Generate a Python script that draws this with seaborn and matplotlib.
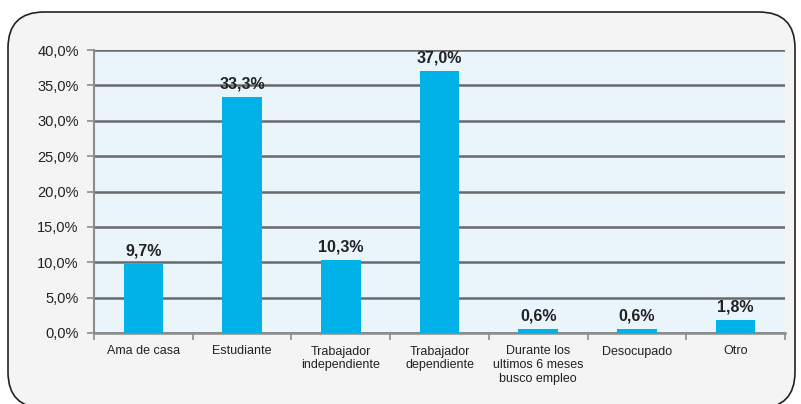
import matplotlib
matplotlib.use("Agg")
import matplotlib.pyplot as plt
import seaborn as sns
import pandas as pd
from matplotlib.patches import FancyBboxPatch
from matplotlib.ticker import MultipleLocator, FuncFormatter, FixedLocator

# --- DATA ---
categories = [
    "Ama de casa",
    "Estudiante",
    "Trabajador\nindependiente",
    "Trabajador\ndependiente",
    "Durante los\nultimos 6 meses\nbusco empleo",
    "Desocupado",
    "Otro",
]
values = [9.7, 33.3, 10.3, 37.0, 0.6, 0.6, 1.8]

BAR_COLOR = "#00b2e7"
PLOT_BG = "#eaf4fb"
BOX_BG = "#f4f4f4"
GRID = "#6a6a6a"


def pct(v, _=None):
    return f"{v:.1f}%".replace(".", ",")


def main():
    sns.set_style("white")
    plt.rcParams["font.family"] = ["Liberation Sans", "DejaVu Sans"]

    df = pd.DataFrame({"cat": categories, "val": values})

    fig = plt.figure(figsize=(8.01, 4.04), dpi=100)
    fig.patch.set_facecolor("white")

    # rounded frame around the chart
    box = FancyBboxPatch((8 / 801, -0.01), 787 / 801, (404 - 12) / 404 + 0.01,
                         boxstyle="round,pad=0,rounding_size=0.045",
                         transform=fig.transFigure, facecolor=BOX_BG,
                         edgecolor="#222222", linewidth=1.2,
                         mutation_aspect=801 / 404, zorder=-5)
    fig.patches.append(box)

    ax = fig.add_axes([94 / 801, 1 - 333 / 404, (785 - 94) / 801, (333 - 50) / 404])
    ax.set_facecolor(PLOT_BG)

    sns.barplot(data=df, x="cat", y="val", color=BAR_COLOR, width=0.4,
                saturation=1, linewidth=0, ax=ax, zorder=3)

    ax.set_ylim(0, 40)
    ax.yaxis.set_major_locator(MultipleLocator(5))
    ax.yaxis.set_major_formatter(FuncFormatter(pct))
    ax.grid(axis="y", color=GRID, linewidth=1.8, zorder=1)
    ax.set_axisbelow(True)

    for s in ["top", "right"]:
        ax.spines[s].set_visible(False)
    ax.spines["left"].set_color("#8c8c8c")
    ax.spines["left"].set_linewidth(1.5)
    ax.spines["bottom"].set_color("#8c8c8c")
    ax.spines["bottom"].set_linewidth(1.8)

    ax.set_xlabel("")
    ax.set_ylabel("")
    ax.set_xlim(-0.5, len(categories) - 0.5)

    ax.tick_params(axis="y", length=5, width=1.2, color="#8c8c8c",
                   labelsize=10.5, labelcolor="#222222", pad=6, left=True)
    ax.tick_params(axis="x", length=0, labelsize=9, labelcolor="#222222", pad=9)

    # ticks between categories
    ax.xaxis.set_minor_locator(FixedLocator([i - 0.5 for i in range(len(categories) + 1)]))
    ax.tick_params(axis="x", which="minor", length=5, width=1.2, color="#8c8c8c",
                   bottom=True)

    for i, v in enumerate(values):
        ax.text(i, v + 0.8, pct(v), ha="center", va="bottom",
                fontsize=11.5, fontweight="bold", color="#222222")

    fig.savefig("out.png", dpi=100, facecolor=fig.get_facecolor())


if __name__ == "__main__":
    main()
